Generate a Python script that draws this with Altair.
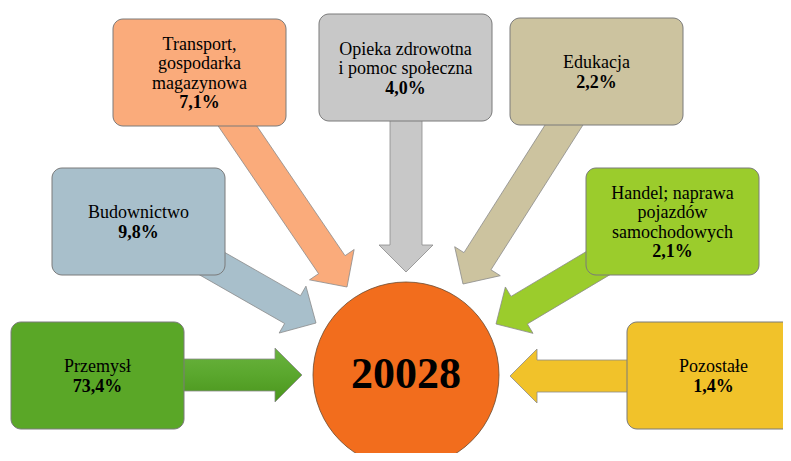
import math
import altair as alt
import pandas as pd

# ---------------- data ----------------
sectors = [
    "Przemysł",
    "Budownictwo",
    "Transport, gospodarka magazynowa",
    "Opieka zdrowotna i pomoc społeczna",
    "Edukacja",
    "Handel; naprawa pojazdów samochodowych",
    "Pozostałe",
]
label_lines = [
    ["Przemysł"],
    ["Budownictwo"],
    ["Transport,", "gospodarka", "magazynowa"],
    ["Opieka zdrowotna", "i pomoc społeczna"],
    ["Edukacja"],
    ["Handel; naprawa", "pojazdów", "samochodowych"],
    ["Pozostałe"],
]
shares = [73.4, 9.8, 7.1, 4.0, 2.2, 2.1, 1.4]
total = 20028

# ---------------- styles ----------------
colors = ["#5AA727", "#A8BFCB", "#FAAB7B", "#C8C8C8", "#CCC39F", "#9BCC2C", "#F1C22A"]
circle_color = "#F26D1D"
border = "#7A7A7A"
FONT = "Liberation Serif, Times New Roman, serif"

# ---------------- layout (image pixel coords) ----------------
BOX_W, BOX_H = 173, 107
box_pos = [(11, 322), (52, 168), (113, 19), (319, 14), (510, 18), (586, 168), (627, 322)]
# arrow: (point on box edge, tip)
arrow_geo = [
    ((185, 375), (302, 375)),
    ((214.5, 265), (316, 323)),
    ((237.5, 126), (347, 287)),
    ((406, 121), (406, 272)),
    ((564, 125), (463, 284)),
    ((597.5, 263.5), (496, 324)),
    ((627, 376), (510, 376)),
]
SHAFT_W, HEAD_W, HEAD_L = 32, 54, 27
CIRCLE = (406, 375, 93)
LINE_H = 19.5
TEXT_DY = 1.5

X0, X1, Y0, Y1 = 8, 783, 8, 453
W, H = X1 - X0, Y1 - Y0
xs = alt.Scale(domain=[X0, X1])
ys = alt.Scale(domain=[Y0, Y1], reverse=True)

# boxes
boxes = pd.DataFrame({
    "sector": sectors,
    "x": [p[0] for p in box_pos],
    "x2": [p[0] + BOX_W for p in box_pos],
    "y": [p[1] for p in box_pos],
    "y2": [p[1] + BOX_H for p in box_pos],
    "color": colors,
})

# arrows as closed polygons
rows = []
for k, ((bx, by), (tx, ty)) in enumerate(arrow_geo):
    dx, dy = tx - bx, ty - by
    L = math.hypot(dx, dy)
    ux, uy = dx / L, dy / L
    nx, ny = -uy, ux
    sx, sy = bx - ux * 30, by - uy * 30  # start hidden under box
    neckx, necky = tx - ux * HEAD_L, ty - uy * HEAD_L
    pts = [
        (sx + nx * SHAFT_W / 2, sy + ny * SHAFT_W / 2),
        (neckx + nx * SHAFT_W / 2, necky + ny * SHAFT_W / 2),
        (neckx + nx * HEAD_W / 2, necky + ny * HEAD_W / 2),
        (tx, ty),
        (neckx - nx * HEAD_W / 2, necky - ny * HEAD_W / 2),
        (neckx - nx * SHAFT_W / 2, necky - ny * SHAFT_W / 2),
        (sx - nx * SHAFT_W / 2, sy - ny * SHAFT_W / 2),
    ]
    pts.append(pts[0])
    for i, (px, py) in enumerate(pts):
        rows.append({"id": k, "i": i, "x": px, "y": py, "color": colors[k]})
arrows = pd.DataFrame(rows)

# text lines
trows = []
for k, lines in enumerate(label_lines):
    bx, by = box_pos[k]
    cx, cy = bx + BOX_W / 2, by + BOX_H / 2 + TEXT_DY
    pct = f"{shares[k]:.1f}".replace(".", ",") + "%"
    all_lines = [(t, "normal") for t in lines] + [(pct, "bold")]
    n = len(all_lines)
    for i, (t, w) in enumerate(all_lines):
        trows.append({"x": cx, "y": cy + (i - (n - 1) / 2) * LINE_H, "text": t, "w": w})
texts = pd.DataFrame(trows)

center = pd.DataFrame({"x": [CIRCLE[0]], "y": [CIRCLE[1]], "text": [str(total)]})

arrow_layer = alt.Chart(arrows).transform_filter("datum.id != 0").mark_line(
    strokeWidth=0.8, strokeJoin="miter"
).encode(
    x=alt.X("x:Q", scale=xs, axis=None),
    y=alt.Y("y:Q", scale=ys, axis=None),
    order="i:Q",
    detail="id:N",
    fill=alt.Fill("color:N", scale=None),
    stroke=alt.value("#8A8A8A"),
)

arrow0 = alt.Chart(arrows).transform_filter("datum.id == 0").mark_line(
    strokeWidth=0.8, strokeJoin="miter", stroke="#8A8A8A",
    fill=alt.Gradient(
        gradient="linear", x1=0, y1=0, x2=0, y2=1,
        stops=[alt.GradientStop(offset=0, color="#6AB33F"),
               alt.GradientStop(offset=0.5, color="#5AA72D"),
               alt.GradientStop(offset=1, color="#4A951C")],
    ),
).encode(
    x=alt.X("x:Q", scale=xs, axis=None),
    y=alt.Y("y:Q", scale=ys, axis=None),
    order="i:Q",
)

box_layer = alt.Chart(boxes).mark_rect(
    cornerRadius=10, stroke=border, strokeWidth=1
).encode(
    x=alt.X("x:Q", scale=xs, axis=None),
    x2="x2:Q",
    y=alt.Y("y:Q", scale=ys, axis=None),
    y2="y2:Q",
    fill=alt.Fill("color:N", scale=None),
)

circle_layer = alt.Chart(center).mark_point(
    shape="circle", filled=True, size=(2 * CIRCLE[2]) ** 2,
    fill=circle_color, stroke="#6A4A30", strokeWidth=0.8, opacity=1,
).encode(
    x=alt.X("x:Q", scale=xs, axis=None),
    y=alt.Y("y:Q", scale=ys, axis=None),
)

center_text = alt.Chart(center).mark_text(
    font=FONT, fontSize=44, fontWeight="bold", color="black", baseline="middle"
).encode(
    x=alt.X("x:Q", scale=xs, axis=None),
    y=alt.Y("y:Q", scale=ys, axis=None),
    text="text:N",
)

text_norm = alt.Chart(texts).transform_filter("datum.w == 'normal'").mark_text(
    font=FONT, fontSize=18, color="black", baseline="middle"
).encode(
    x=alt.X("x:Q", scale=xs, axis=None),
    y=alt.Y("y:Q", scale=ys, axis=None),
    text="text:N",
)
text_bold = alt.Chart(texts).transform_filter("datum.w == 'bold'").mark_text(
    font=FONT, fontSize=18, fontWeight="bold", color="black", baseline="middle"
).encode(
    x=alt.X("x:Q", scale=xs, axis=None),
    y=alt.Y("y:Q", scale=ys, axis=None),
    text="text:N",
)

chart = alt.layer(
    arrow_layer, arrow0, box_layer, circle_layer, center_text, text_norm, text_bold
).properties(
    width=W, height=H, padding=0, autosize=alt.AutoSizeParams(type="none"),
    background="white",
).configure_view(strokeWidth=0)

chart.save("out.html", embed_options={"renderer": "svg", "actions": False})
